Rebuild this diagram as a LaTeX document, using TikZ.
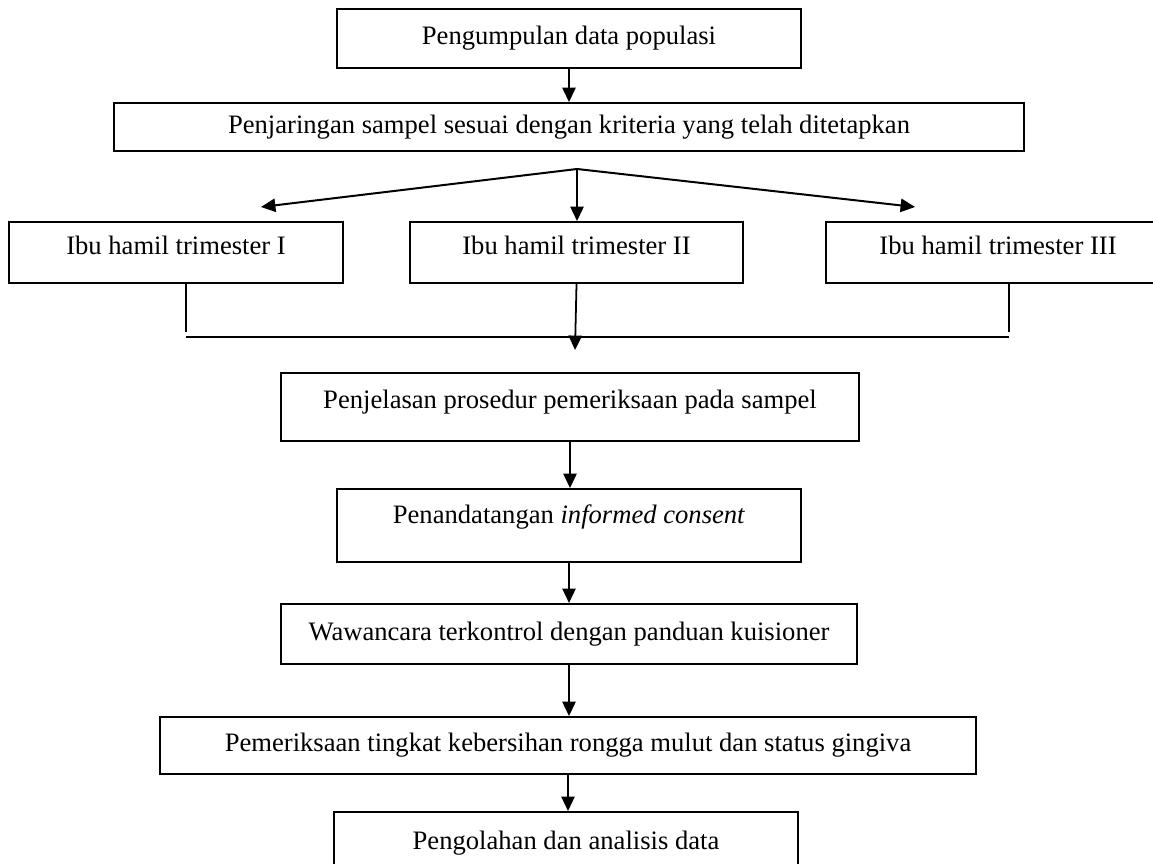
\documentclass[tikz,border=0pt]{standalone}
\usepackage{fontspec}
\setmainfont{Liberation Serif}
\usetikzlibrary{positioning,arrows.meta}
\tikzset{%
	flowbox/.style={%
		rectangle,
		draw,
		line width=0.9pt,
		inner sep=0pt,
		text height=8pt,
		text depth=2.5pt,
		font=\fontsize{12}{14}\selectfont
	}
}

\begin{document}
\begin{tikzpicture}[x=0.451pt, y=-0.451pt, flow/.style={line width=0.8pt, -{Triangle[length=6.5pt,width=6pt]}}, joinline/.style={line width=0.6pt}]
        \useasboundingbox (0,0) rectangle (1153,863);
        % main boxes
        \node [flowbox, minimum width=209.3pt, minimum height=26.6pt] (populasi) at (569,38.5) {Pengumpulan data populasi};
        \node [flowbox, minimum width=410.4pt, minimum height=21.6pt] (jaring) at (569,127) {Penjaringan sampel sesuai dengan kriteria yang telah ditetapkan};
        \node [flowbox, minimum width=150.6pt, minimum height=27.5pt, text depth=6.5pt] (trim1) at (176,252.5) {Ibu hamil trimester I};
        \node [flowbox, minimum width=150.2pt, minimum height=27.5pt, text depth=6.5pt] (trim2) at (576.5,252.5) {Ibu hamil trimester II};
        \node [flowbox, minimum width=155.1pt, minimum height=27.5pt, text depth=6.5pt] (trim3) at (998,252.5) {Ibu hamil trimester III};
        \node [flowbox, minimum width=260.7pt, minimum height=30.7pt, text depth=6.5pt] (jelas) at (570,407) {Penjelasan prosedur pemeriksaan pada sampel};
        \node [flowbox, minimum width=209.3pt, minimum height=32.9pt, text depth=9.5pt] (consent) at (569,525.5) {Penandatangan \textit{informed consent}};
        \node [flowbox, minimum width=259.8pt, minimum height=27.1pt] (wawancara) at (569,634) {Wawancara terkontrol dengan panduan kuisioner};
        \node [flowbox, minimum width=368pt, minimum height=25.7pt] (periksa) at (568,745.5) {Pemeriksaan tingkat kebersihan rongga mulut dan status gingiva};
        \node [flowbox, minimum width=209.3pt, minimum height=28pt] (olah) at (566,843) {Pengolahan dan analisis data};
        % free ends
        \coordinate (fork) at (577,169);
        \coordinate (tipL) at (261,207);
        \coordinate (tipR) at (915,207);
        \coordinate (dropL) at (186,332);
        \coordinate (dropR) at (1009,332);
        \coordinate (barL) at (186,337);
        \coordinate (barR) at (1009,337);
        \coordinate (merge) at (575,350);
        % connectors
        \draw [flow] (populasi.south) -- (populasi.south |- jaring.north);
        \draw [flow, line width=0.9pt] (fork) -- (tipL);
        \draw [flow] (fork) -- (fork |- trim2.north);
        \draw [flow, line width=0.9pt] (fork) -- (tipR);
        \draw [joinline] (dropL |- trim1.south) -- (dropL);
        \draw [joinline] (dropR |- trim3.south) -- (dropR);
        \draw [line width=0.9pt] (barL) -- (barR);
        \draw [flow] (trim2.south) -- (merge);
        \draw [flow] (jelas.south) -- (jelas.south |- consent.north);
        \draw [flow] (consent.south) -- (consent.south |- wawancara.north);
        \draw [flow] (wawancara.south) -- (wawancara.south |- periksa.north);
        \draw [flow] (periksa.south) -- (periksa.south |- olah.north);
    \end{tikzpicture}
\end{document}
